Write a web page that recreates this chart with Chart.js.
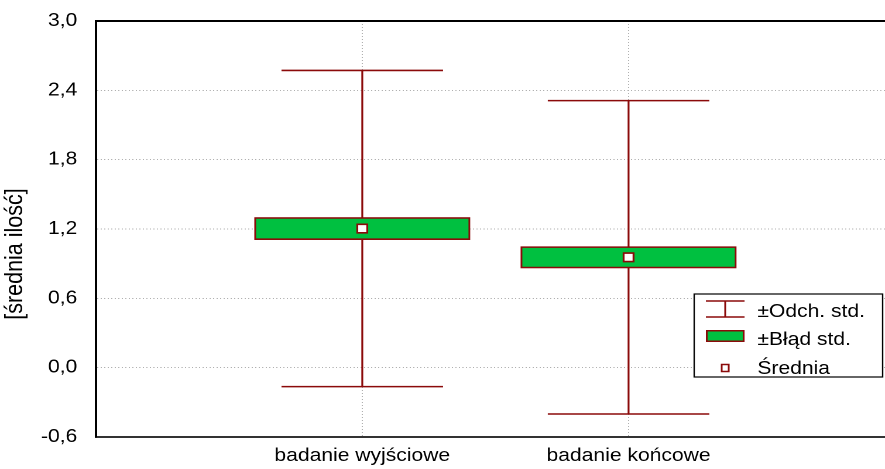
<!DOCTYPE html>
<html>
<head>
<meta charset="utf-8">
<script src="https://cdn.jsdelivr.net/npm/chart.js@4.4.0/dist/chart.umd.min.js"></script>
<style>
  html, body { margin: 0; padding: 0; background: #fff; overflow: hidden; }
  /* the original picture is a bit stretched sideways, so the chart is too */
  #wrap { position: relative; width: 756px; height: 469px; transform: scaleX(1.1706); transform-origin: 0 0; }
</style>
</head>
<body>
<div id="wrap"><canvas id="chart"></canvas></div>
<script>
var categories = ['badanie wyjściowe', 'badanie końcowe'];
var means = [1.204, 0.955];
var sds = [1.368, 1.356];
var ses = [0.096, 0.093];
var yTicks = [-0.6, 0, 0.6, 1.2, 1.8, 2.4, 3.0];
var legendLabels = ['±Odch. std.', '±Błąd std.', 'Średnia'];
var yTitle = '[średnia ilość]';

var red = '#8b0a0a';
var green = '#00c040';
var family = '"Liberation Sans", Arial, sans-serif';
var capWidth = 138;

function fmt(v) {
  if (Math.abs(v) < 1e-9) v = 0;
  return v.toFixed(1).replace('.', ',');
}

// whiskers, top frame line, axis title and the legend box
var boxPlot = {
  id: 'boxPlot',
  beforeDatasetsDraw: function(chart) {
    var ctx = chart.ctx, xs = chart.scales.x, ys = chart.scales.y;
    ctx.save();
    ctx.strokeStyle = red;
    ctx.lineWidth = 1.6;
    means.forEach(function(m, i) {
      var px = xs.getPixelForValue(i + 1);
      var top = ys.getPixelForValue(m + sds[i]);
      var bot = ys.getPixelForValue(m - sds[i]);
      ctx.beginPath();
      ctx.moveTo(px, top); ctx.lineTo(px, bot);
      ctx.moveTo(px - capWidth / 2, top); ctx.lineTo(px + capWidth / 2, top);
      ctx.moveTo(px - capWidth / 2, bot); ctx.lineTo(px + capWidth / 2, bot);
      ctx.stroke();
    });
    ctx.restore();
  },
  afterDraw: function(chart) {
    var ctx = chart.ctx, ca = chart.chartArea;
    ctx.save();
    ctx.strokeStyle = '#000';
    ctx.lineWidth = 2;
    ctx.beginPath();
    ctx.moveTo(ca.left - 1, ca.top);
    ctx.lineTo(chart.width, ca.top);
    ctx.stroke();

    // y title, sits a little below the middle of the axis
    ctx.save();
    ctx.translate(13, ca.top + 233);
    ctx.rotate(-Math.PI / 2);
    ctx.fillStyle = '#000';
    ctx.font = '21.5px ' + family;
    ctx.textAlign = 'center';
    ctx.textBaseline = 'middle';
    ctx.fillText(yTitle, 0, 0);
    ctx.restore();

    // legend
    var lx = ca.right - 163, ly = ca.bottom - 143, lw = 161, lh = 83;
    ctx.fillStyle = '#fff';
    ctx.fillRect(lx, ly, lw, lh);
    ctx.lineWidth = 1.2;
    ctx.strokeStyle = '#000';
    ctx.strokeRect(lx, ly, lw, lh);

    var ix = lx + 10, iw = 33, cx = ix + iw / 2, tx = lx + 54;
    var rows = [ly + 15, ly + 42, ly + 74];

    ctx.strokeStyle = red;
    ctx.lineWidth = 1.5;
    ctx.beginPath();
    ctx.moveTo(ix, rows[0] - 8); ctx.lineTo(ix + iw, rows[0] - 8);
    ctx.moveTo(ix, rows[0] + 8); ctx.lineTo(ix + iw, rows[0] + 8);
    ctx.moveTo(cx, rows[0] - 8); ctx.lineTo(cx, rows[0] + 8);
    ctx.stroke();

    ctx.fillStyle = green;
    ctx.fillRect(ix, rows[1] - 6, iw, 12);
    ctx.strokeRect(ix + 0.75, rows[1] - 5.25, iw - 1.5, 10.5);

    ctx.fillStyle = '#fff';
    ctx.fillRect(cx - 3, rows[2] - 3.5, 6, 7);
    ctx.strokeRect(cx - 3, rows[2] - 3.5, 6, 7);

    ctx.fillStyle = '#000';
    ctx.font = '18px ' + family;
    ctx.textBaseline = 'middle';
    ctx.textAlign = 'left';
    var textY = [rows[0] + 3, rows[1] + 4, rows[2] + 1];
    legendLabels.forEach(function(t, i) {
      ctx.fillText(t, tx, textY[i]);
    });
    ctx.restore();
  }
};

var boxData = means.map(function(m, i) {
  return { x: i + 1, y: [m - ses[i], m + ses[i]] };
});
var meanData = means.map(function(m, i) {
  return { x: i + 1, y: m };
});

var ctx = document.getElementById('chart').getContext('2d');
var chart = new Chart(ctx, {
  type: 'bar',
  data: {
    datasets: [
      {
        type: 'line',
        label: legendLabels[2],
        data: meanData,
        showLine: false,
        pointStyle: 'rect',
        pointRadius: 6,
        pointBackgroundColor: '#fff',
        pointBorderColor: red,
        pointBorderWidth: 1.6,
        order: 0
      },
      {
        type: 'bar',
        label: legendLabels[1],
        data: boxData,
        backgroundColor: green,
        borderColor: red,
        borderWidth: 1.6,
        borderSkipped: false,
        barThickness: 184,
        order: 1
      }
    ]
  },
  options: {
    responsive: true,
    maintainAspectRatio: false,
    animation: false,
    devicePixelRatio: 2,
    layout: { autoPadding: false, padding: { top: 21, left: 0, right: 0, bottom: 0 } },
    plugins: {
      legend: { display: false },
      tooltip: { enabled: false }
    },
    scales: {
      x: {
        type: 'linear',
        min: 0,
        max: 2.963,
        offset: false,
        grid: { color: '#b0b0b0', lineWidth: 1, drawTicks: false, offset: false },
        border: { color: '#333', width: 2, dash: [1, 2] },
        ticks: {
          color: '#000',
          font: { family: family, size: 18 },
          padding: 8,
          autoSkip: false,
          maxRotation: 0,
          callback: function(v) { return categories[v - 1] || ''; }
        },
        afterBuildTicks: function(s) {
          s.ticks = categories.map(function(c, i) { return { value: i + 1 }; });
        },
        afterFit: function(s) { s.height = 32; s.paddingLeft = 0; s.paddingRight = 0; }
      },
      y: {
        type: 'linear',
        min: -0.6,
        max: 3.0,
        grid: { color: '#b0b0b0', lineWidth: 1, drawTicks: false },
        border: { color: '#000', width: 2, dash: [1, 2] },
        ticks: {
          color: '#000',
          font: { family: family, size: 18 },
          padding: 16,
          callback: function(v) { return fmt(v); }
        },
        afterBuildTicks: function(s) {
          s.ticks = yTicks.map(function(v) { return { value: v }; });
        },
        afterFit: function(s) { s.width = 82; s.paddingTop = 0; s.paddingBottom = 0; }
      }
    }
  },
  plugins: [boxPlot]
});
</script>
</body>
</html>
